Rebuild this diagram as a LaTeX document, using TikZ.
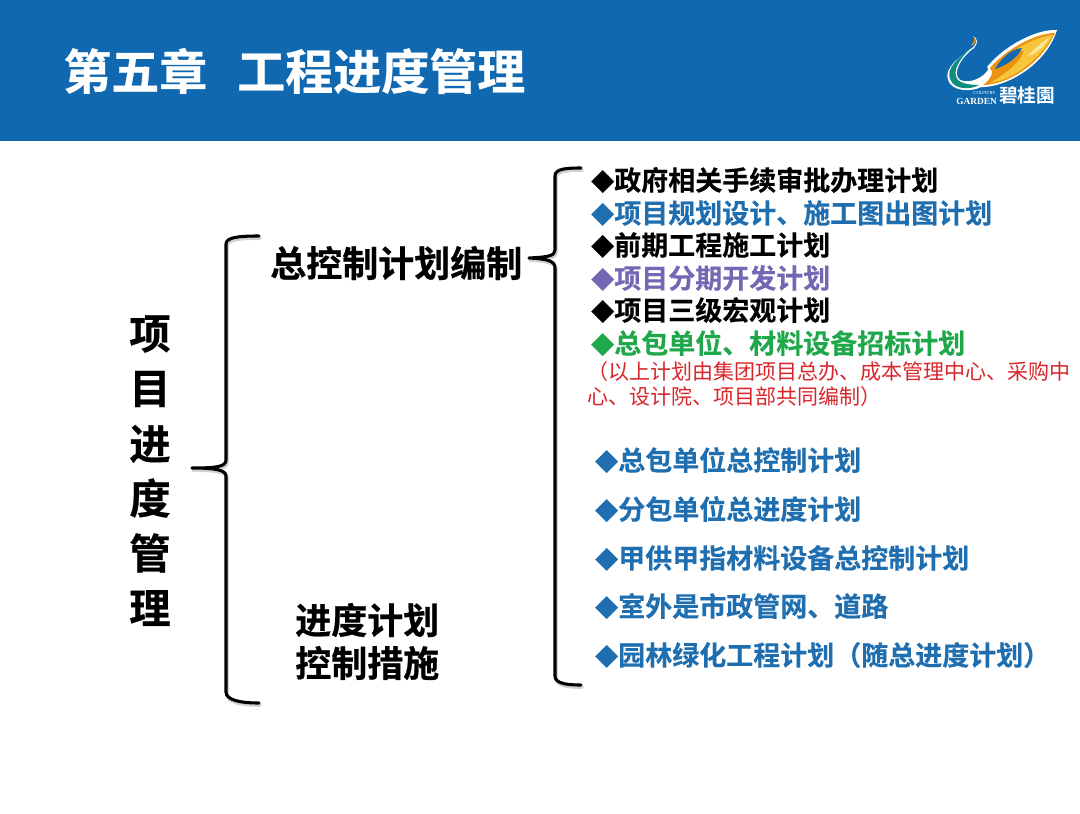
\documentclass[tikz,border=0pt]{standalone}
\usepackage{graphicx}
\usepackage{fontspec}
\setmainfont{Noto Sans CJK SC}[BoldFont={Noto Sans CJK SC Bold}]
\newfontfamily\heavy{Noto Sans CJK SC Bold}[FakeBold=0.6]
\newfontfamily\semiheavy{Noto Sans CJK SC Bold}[FakeBold=0.25]
\newfontfamily\serifl{Liberation Serif}
\definecolor{band}{HTML}{1069B0}
\definecolor{itemblue}{HTML}{1F6FB0}
\definecolor{itempurple}{HTML}{7468B4}
\definecolor{itemgreen}{HTML}{1FA84A}
\definecolor{itemred}{HTML}{D8262C}
\definecolor{gold}{HTML}{F6C63A}
\definecolor{orange1}{HTML}{E9930F}
\definecolor{pale}{HTML}{FBE9A0}
\definecolor{teal1}{HTML}{0F8C80}
\newcommand{\fsz}[1]{\fontsize{#1}{#1}\selectfont}
\newcommand{\dm}{\makebox[1em][r]{\scalebox{0.86}{◆}}}
\tikzset{
  x=0.75pt,y=-0.75pt,
  item/.style={anchor=west,inner sep=0pt,font=\fsz{20.25pt}\semiheavy},
  head/.style={inner sep=0pt,font=\fsz{27pt}\heavy,align=left,text=black},
  vert/.style={inner sep=0pt,font=\fsz{31pt}\heavy,text=black},
  bracepath/.style={draw=black,line width=2.3pt,line cap=round,line join=round},
  braceshadow/.style={draw=black!18,line width=2.8pt,line cap=round,line join=round},
}
\begin{document}
\begin{tikzpicture}
\useasboundingbox (0,0) rectangle (1080,813);
\fill[white] (0,0) rectangle (1080,813);
\fill[band] (0,0) rectangle (1080,141);
% title
\node (title) [inner sep=0pt,anchor=west,text=white,font=\fsz{36pt}\heavy] at (63,71) {第五章\hspace{22.5pt}工程进度管理};
% logo: gold wing
\fill[white] (1057,30) .. controls (1035,29) and (1003,47) .. (987,67)
  .. controls (992,72) and (986,80) .. (978,87)
  .. controls (1005,89) and (1046,65) .. (1057,30) -- cycle;
\fill[orange1] (1055,33) .. controls (1035,33) and (1005,50) .. (990,68)
  .. controls (995,72) and (990,80) .. (983,85)
  .. controls (1008,85) and (1042,63) .. (1055,33) -- cycle;
\fill[gold] (1053,35) .. controls (1035,37) and (1012,50) .. (1000,62)
  .. controls (1008,58) and (1016,52) .. (1024,50)
  .. controls (1022,62) and (1005,74) .. (990,83)
  .. controls (1012,80) and (1040,60) .. (1053,35) -- cycle;
\fill[band] (1022,48) .. controls (1010,49) and (1000,60) .. (995,69)
  .. controls (1005,66) and (1018,58) .. (1022,48) -- cycle;
\fill[pale] (1049,38) .. controls (1040,43) and (1034,50) .. (1028,56)
  .. controls (1036,54) and (1045,46) .. (1049,38) -- cycle;
% logo: teal sweep
\fill[white] (973,36) .. controls (978,40) and (976,46) .. (972,48)
  .. controls (958,58) and (944,68) .. (948,80)
  .. controls (952,92) and (972,92) .. (981,87)
  .. controls (986,82) and (990,74) .. (989,68)
  .. controls (984,78) and (970,84) .. (960,80)
  .. controls (952,74) and (960,58) .. (974,48)
  .. controls (978,44) and (978,38) .. (973,36) -- cycle;
\fill[teal1] (971,48) .. controls (958,58) and (946,68) .. (950,79)
  .. controls (954,90) and (970,90) .. (979,85)
  .. controls (972,85) and (962,84) .. (958,80)
  .. controls (951,72) and (960,58) .. (971,48) -- cycle;
\fill[orange1] (974,37) .. controls (977,41) and (975,45) .. (971,46) .. controls (973,43) and (975,41) .. (974,37) -- cycle;
\node (logotxt) [inner sep=0pt,anchor=west,text=white,font=\fsz{14pt}\bfseries] at (999,95) {碧桂園};
\node (logocountry) [inner sep=0pt,anchor=east,text=white,font=\fsz{3.5pt}\serifl] at (996,93) {COUNTRY};
\node (logogarden) [inner sep=0pt,anchor=east,text=white,font=\fsz{7pt}\serifl\bfseries] at (997,101) {GARDEN};
% left brace
\draw[braceshadow,shift={(1,2)}] (259,236) .. controls (240,236) and (226,237) .. (226,244) -- (226,460) .. controls (226,467) and (215,468) .. (192,468) .. controls (215,468) and (226,470) .. (226,476) -- (226,692) .. controls (226,700) and (240,703) .. (259,703);
\draw[bracepath] (259,236) .. controls (240,236) and (226,237) .. (226,244) -- (226,460) .. controls (226,467) and (215,468) .. (192,468) .. controls (215,468) and (226,470) .. (226,476) -- (226,692) .. controls (226,700) and (240,703) .. (259,703);
% right brace
\draw[braceshadow,shift={(1,2)}] (581,168) .. controls (565,168) and (555,169) .. (555,176) -- (555,250) .. controls (555,256) and (548,257) .. (529,258) .. controls (548,259) and (555,261) .. (555,268) -- (555,676) .. controls (555,683) and (565,685) .. (581,685);
\draw[bracepath] (581,168) .. controls (565,168) and (555,169) .. (555,176) -- (555,250) .. controls (555,256) and (548,257) .. (529,258) .. controls (548,259) and (555,261) .. (555,268) -- (555,676) .. controls (555,683) and (565,685) .. (581,685);
% left vertical label
\node (v1) [vert] at (150,334) {项};
\node (v2) [vert] at (150,389) {目};
\node (v3) [vert] at (150,444) {进};
\node (v4) [vert] at (150,498) {度};
\node (v5) [vert] at (150,553) {管};
\node (v6) [vert] at (150,608) {理};
% headings
\node (h1) [head,anchor=west] at (270,263) {总控制计划编制};
\node (h2a) [head,anchor=west] at (295,620) {进度计划};
\node (h2b) [head,anchor=west] at (295,663) {控制措施};
% items
\node (a1) [item,text=black] at (587,180) {\dm 政府相关手续审批办理计划};
\node (a2) [item,text=itemblue] at (587,213) {\dm 项目规划设计、施工图出图计划};
\node (a3) [item,text=black] at (587,245) {\dm 前期工程施工计划};
\node (a4) [item,text=itempurple] at (587,278) {\dm 项目分期开发计划};
\node (a5) [item,text=black] at (587,310) {\dm 项目三级宏观计划};
\node (a6) [item,text=itemgreen] at (587,343) {\dm 总包单位、材料设备招标计划};
\node (r1) [inner sep=0pt,anchor=west,text=itemred,font=\fsz{15.75pt}] at (587,372) {（以上计划由集团项目总办、成本管理中心、采购中};
\node (r2) [inner sep=0pt,anchor=west,text=itemred,font=\fsz{15.75pt}] at (587,397) {心、设计院、项目部共同编制）};
\node (b1) [item,text=itemblue] at (591,460) {\dm 总包单位总控制计划};
\node (b2) [item,text=itemblue] at (591,509) {\dm 分包单位总进度计划};
\node (b3) [item,text=itemblue] at (591,558) {\dm 甲供甲指材料设备总控制计划};
\node (b4) [item,text=itemblue] at (591,606) {\dm 室外是市政管网、道路};
\node (b5) [item,text=itemblue] at (591,655) {\dm 园林绿化工程计划（随总进度计划）};
\end{tikzpicture}
\end{document}
